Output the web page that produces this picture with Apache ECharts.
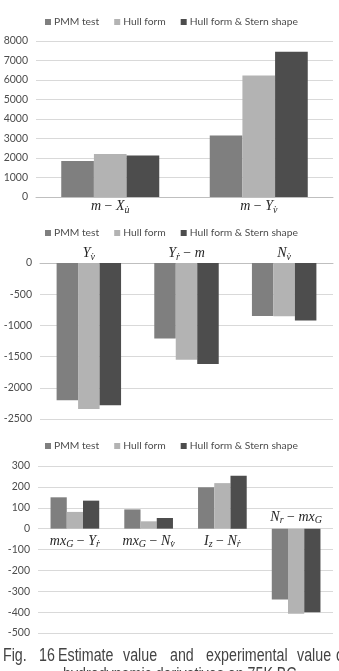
<!DOCTYPE html>
<html>
<head>
<meta charset="utf-8">
<script src="https://cdn.jsdelivr.net/npm/echarts@6/dist/echarts.min.js"></script>
<style>
  html, body { margin: 0; padding: 0; background: #fff; }
  #chart { width: 339px; height: 671px; }
</style>
</head>
<body>
<div id="chart"></div>
<script>
// series names (same in all three panels)
var seriesNames = ['PMM test', 'Hull form', 'Hull form & Stern shape'];
var barColors = ['#7f7f7f', '#b3b3b3', '#4d4d4d'];

// panel 1
var cats1 = ['m − X_u\u0307', 'm − Y_v\u0307'];
var pmm1 = [1850, 3150];
var hull1 = [2200, 6230];
var stern1 = [2130, 7450];

// panel 2
var cats2 = ['Y_v\u0307', 'Y_\u1E59 − m', 'N_v\u0307'];
var pmm2 = [-2200, -1210, -850];
var hull2 = [-2340, -1550, -855];
var stern2 = [-2280, -1620, -920];

// panel 3
var cats3 = ['mx_G − Y_\u1E59', 'mx_G − N_v\u0307', 'I_z − N_\u1E59', 'N_r − mx_G'];
var pmm3 = [150, 92, 198, -340];
var hull3 = [80, 35, 218, -408];
var stern3 = [134, 51, 253, -400];

// y ranges [min, max, step]
var yRange1 = [0, 8000, 1000];
var yRange2 = [-2500, 0, 500];
var yRange3 = [-500, 300, 100];

// caption, first line is justified so words are placed one by one
var captionWords = ['Fig.', '16', 'Estimate', 'value', 'and', 'experimental', 'value', 'o'];
var captionX = [3, 39, 58, 123, 170, 206, 297, 336];
var captionLine2 = 'hydrodynamic derivatives on 75K BC';

// "X_u" -> italic X with subscript u
function mathLabel(s) {
  return s.split(' ').map(function (t) {
    if (t === '−') return '{o|−}';
    var p = t.split('_');
    return '{i|' + p[0] + '}' + (p[1] ? '{s|' + p[1] + '}' : '');
  }).join('{o| }');
}

var mathRich = {
  i: { fontFamily: 'Liberation Serif', fontStyle: 'italic', fontSize: 14, color: '#262626' },
  s: { fontFamily: 'Liberation Serif', fontStyle: 'italic', fontSize: 10, color: '#262626', padding: [7, 0, 0, 0] },
  o: { fontFamily: 'Liberation Serif', fontSize: 14, color: '#262626' }
};

var grids = [
  { left: 36, right: 6, top: 41, height: 156 },
  { left: 40, right: 6, top: 263, height: 156 },
  { left: 38, right: 6, top: 466, height: 167 }
];
var legendTops = [17, 228, 441];
var panels = [
  { cats: cats1, data: [pmm1, hull1, stern1], y: yRange1 },
  { cats: cats2, data: [pmm2, hull2, stern2], y: yRange2 },
  { cats: cats3, data: [pmm3, hull3, stern3], y: yRange3 }
];

var legends = [], xAxes = [], yAxes = [], series = [];

panels.forEach(function (p, g) {
  legends.push({
    top: legendTops[g],
    left: 45,
    itemWidth: 6,
    itemHeight: 6,
    itemGap: 15,
    icon: 'rect',
    padding: 0,
    data: seriesNames,
    textStyle: { fontFamily: 'Lato', fontSize: 10.3, color: '#4d4d4d', padding: [0, 0, 0, -2] }
  });

  yAxes.push({
    type: 'value',
    gridIndex: g,
    min: p.y[0],
    max: p.y[1],
    interval: p.y[2],
    axisLine: { show: false },
    axisTick: { show: false },
    axisLabel: {
      fontFamily: 'Lato', fontSize: 10.5, color: '#4d4d4d', margin: 8,
      formatter: function (v) { return String(v); }
    },
    splitLine: { lineStyle: { color: '#d9d9d9', width: 1 } }
  });
});

// panel 1: labels under the axis
xAxes.push({
  type: 'category', gridIndex: 0, data: cats1, position: 'bottom',
  axisTick: { show: false },
  axisLine: { lineStyle: { color: '#bfbfbf' } },
  axisLabel: { interval: 0, margin: 1, rich: mathRich, formatter: mathLabel }
});
// panel 2: zero is at the top, labels above it
xAxes.push({
  type: 'category', gridIndex: 1, data: cats2, position: 'top',
  axisTick: { show: false },
  axisLine: { lineStyle: { color: '#bfbfbf' } },
  axisLabel: { interval: 0, margin: 1, rich: mathRich, formatter: mathLabel }
});
// panel 3: bars on axis 2, names on a hidden axis 3 via zero-height helper bars
xAxes.push({
  type: 'category', gridIndex: 2, data: cats3,
  axisTick: { show: false },
  axisLine: { show: false },
  axisLabel: { show: false }
});
xAxes.push({
  type: 'category', gridIndex: 2, data: cats3, show: false,
  axisLine: { onZero: false }
});

panels.forEach(function (p, g) {
  p.data.forEach(function (vals, k) {
    series.push({
      name: seriesNames[k],
      type: 'bar',
      xAxisIndex: g,
      yAxisIndex: g,
      data: vals,
      barGap: '0%',
      barCategoryGap: '34%',
      itemStyle: { color: barColors[k] },
      silent: true
    });
  });
});

// category names for panel 3: under zero for positive groups, above for negative
series.push({
  type: 'bar',
  xAxisIndex: 3,
  yAxisIndex: 2,
  silent: true,
  itemStyle: { color: 'rgba(0,0,0,0)' },
  data: cats3.map(function (c, i) {
    return {
      value: 0,
      label: {
        show: true,
        position: pmm3[i] >= 0 ? 'bottom' : 'top',
        distance: pmm3[i] >= 0 ? 4 : 3,
        rich: mathRich,
        formatter: function () { return mathLabel(c); }
      }
    };
  })
});

var graphic = captionWords.map(function (w, i) {
  return {
    type: 'text', x: captionX[i], y: 656, scaleX: 0.95, scaleY: 1.25, silent: true,
    style: { text: w, fill: '#444', font: '15px "Liberation Sans"', verticalAlign: 'middle' }
  };
});
graphic.push({
  type: 'text', x: 63, y: 675, scaleX: 0.95, scaleY: 1.25, silent: true,
  style: { text: captionLine2, fill: '#444', font: '15px "Liberation Sans"', verticalAlign: 'middle' }
});

var myChart = echarts.init(document.getElementById('chart'));
myChart.setOption({
  animation: false,
  color: barColors,
  legend: legends,
  grid: grids,
  xAxis: xAxes,
  yAxis: yAxes,
  series: series,
  graphic: graphic
});
window.addEventListener('resize', function () {
  myChart.resize();
});
</script>
</body>
</html>
